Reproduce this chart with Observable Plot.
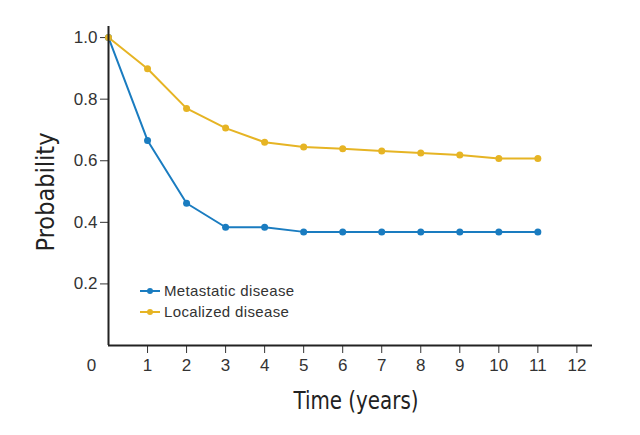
<!DOCTYPE html>
<html>
<head>
<meta charset="utf-8">
<script src="https://cdn.jsdelivr.net/npm/d3@7"></script>
<script src="https://cdn.jsdelivr.net/npm/@observablehq/plot@0.6"></script>
<style>
  html, body { margin: 0; padding: 0; background: #fff; }
  #wrap { position: relative; width: 640px; height: 435px; }
  .title { position: absolute; font-family: "Liberation Sans Narrow", "DejaVu Sans Condensed", "Liberation Sans", sans-serif; font-size: 25px; color: #222; white-space: nowrap; line-height: 1; }
  #legend { position: absolute; left: 140px; top: 280px; font-family: "Liberation Sans", Arial, sans-serif; font-size: 15px; letter-spacing: 0.35px; color: #333; }
  #legend .row { display: flex; align-items: center; height: 21px; }
  #legend svg { margin-right: 2px; }
</style>
</head>
<body>
<div id="wrap"></div>
<script>
// Data
const years = [0, 1, 2, 3, 4, 5, 6, 7, 8, 9, 10, 11];
const metastatic = [1.0, 0.666, 0.462, 0.384, 0.384, 0.369, 0.369, 0.369, 0.369, 0.369, 0.369, 0.369];
const localized = [1.0, 0.899, 0.770, 0.706, 0.660, 0.645, 0.639, 0.632, 0.625, 0.619, 0.607, 0.607];
const seriesNames = ["Metastatic disease", "Localized disease"];
const seriesColors = ["#1a7cc0", "#e6b424"];
const xTicks = [1, 2, 3, 4, 5, 6, 7, 8, 9, 10, 11, 12];
const yTicks = [0.2, 0.4, 0.6, 0.8, 1.0];
const originTick = [0];
const xTitle = "Time (years)";
const yTitle = "Probability";

const rows = [];
years.forEach((t, i) => {
  rows.push({time: t, p: metastatic[i], series: seriesNames[0]});
  rows.push({time: t, p: localized[i], series: seriesNames[1]});
});

const color = {domain: seriesNames, range: seriesColors};
const tickStyle = {fontSize: 17, stroke: "#333"};

const chart = Plot.plot({
  width: 640,
  height: 435,
  marginLeft: 108,
  marginRight: 48,
  marginTop: 26,
  marginBottom: 90,
  x: {domain: [0, 12.4]},
  y: {domain: [0, 1.036]},
  color,
  style: {fontFamily: "'Liberation Sans', Arial, sans-serif", fontSize: "17px", color: "#333", background: "#fff"},
  marks: [
    Plot.axisY({ticks: yTicks, tickFormat: d3.format(".1f"), tickSize: 8, tickPadding: 3, label: null, ...tickStyle}),
    Plot.axisX({ticks: xTicks, tickFormat: d3.format("d"), tickSize: 8, tickPadding: 5, label: null, ...tickStyle}),
    Plot.axisX({ticks: originTick, tickFormat: d3.format("d"), tickSize: 0, tickPadding: 13, dx: -17, label: null, fontSize: 17}),
    Plot.line(rows, {x: "time", y: "p", stroke: "series", strokeWidth: 2}),
    Plot.dot(rows, {x: "time", y: "p", fill: "series", r: 3.5}),
    Plot.ruleX([0], {stroke: "#222", strokeWidth: 2}),
    Plot.ruleY([0], {stroke: "#222", strokeWidth: 2})
  ]
});

const wrap = document.getElementById("wrap");
wrap.appendChild(chart);

// Axis titles (condensed type, fitted to the reference's text length)
function addTitle(text, cx, cy, targetLen, rotate) {
  const el = document.createElement("div");
  el.className = "title";
  el.textContent = text;
  wrap.appendChild(el);
  const w = el.getBoundingClientRect().width;
  const s = targetLen / w;
  el.style.left = cx + "px";
  el.style.top = cy + "px";
  el.style.transform = `translate(-50%, -50%)${rotate ? " rotate(-90deg)" : ""} scaleX(${s})`;
}
addTitle(xTitle, 355.5, 400, 125, false);
addTitle(yTitle, 45, 192, 119, true);

// Legend
const legend = document.createElement("div");
legend.id = "legend";
seriesNames.forEach((name, i) => {
  const row = document.createElement("div");
  row.className = "row";
  row.innerHTML = `<svg width="22" height="10"><line x1="0" x2="20" y1="5" y2="5" stroke="${seriesColors[i]}" stroke-width="2"/><circle cx="10" cy="5" r="3" fill="${seriesColors[i]}"/></svg><span></span>`;
  row.querySelector("span").textContent = name;
  legend.appendChild(row);
});
wrap.appendChild(legend);
</script>
</body>
</html>
